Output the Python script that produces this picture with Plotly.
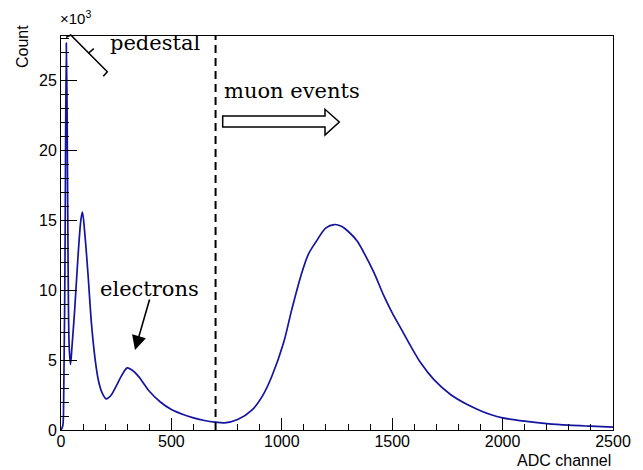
import plotly.graph_objects as go

# ADC channel and counts
adc = [0, 8, 12, 18, 24, 28, 32, 37, 43, 50, 62, 77, 90, 97, 108, 122, 138, 155, 170,
       185, 205, 225, 250, 275, 300, 320, 350, 400, 450, 500, 550, 600, 650, 700, 740,
       800, 867, 912, 955, 1008, 1045, 1086, 1120, 1155, 1200, 1238, 1270, 1300, 1342,
       1372, 1418, 1463, 1500, 1538, 1584, 1629, 1689, 1764, 1840, 1900, 1945, 2000,
       2100, 2200, 2300, 2400, 2500]
counts = [0, 300, 2000, 12000, 27650, 22000, 12000, 6000, 4680, 6000, 8600, 12400, 15000,
          15560, 14000, 11200, 7600, 5000, 3500, 2700, 2230, 2450, 3130, 3900, 4440, 4300,
          3850, 2770, 2000, 1460, 1120, 870, 680, 560, 510, 750, 1460, 2420, 3840, 6230,
          8600, 10990, 12550, 13450, 14440, 14680, 14560, 14200, 13490, 12660, 11230, 9560,
          8370, 7300, 5990, 4800, 3600, 2540, 1820, 1380, 1110, 870, 630, 460, 345, 270, 200]

y_tickvals = [0, 5000, 10000, 15000, 20000, 25000]
y_ticktext = ["0", "5", "10", "15", "20", "25"]
x_tickvals = [0, 500, 1000, 1500, 2000, 2500]
muon_cut = 700

W, H = 643, 470
L, R, T, B = 61, 30, 36, 40
PW, PH = W - L - R, H - T - B


def px(x):
    return (x - L) / PW


def py(y):
    return (H - B - y) / PH


fig = go.Figure()
fig.add_trace(go.Scatter(x=adc, y=counts, mode="lines",
                         line=dict(color="rgb(20,20,160)", width=1.7, shape="spline", smoothing=0.9),
                         hoverinfo="skip", showlegend=False))

sans = "Liberation Sans, Arial, sans-serif"
serif = "DejaVu Serif"

fig.update_layout(
    width=W, height=H,
    margin=dict(l=L, r=R, t=T, b=B),
    paper_bgcolor="white", plot_bgcolor="white",
    xaxis=dict(range=[0, 2500], tickvals=x_tickvals, ticks="inside", ticklen=12,
               tickcolor="black", tickwidth=1, showgrid=False, zeroline=False,
               showline=True, linecolor="black", linewidth=1, mirror=True,
               ticklabelstandoff=-3,
               tickfont=dict(family=sans, size=16, color="black"),
               minor=dict(dtick=100, ticks="inside", ticklen=6, tickcolor="black", tickwidth=1)),
    yaxis=dict(range=[0, 28150], tickvals=y_tickvals, ticktext=y_ticktext, ticks="inside",
               ticklen=16, tickcolor="black", tickwidth=1, showgrid=False, zeroline=False,
               showline=True, linecolor="black", linewidth=1, mirror=True,
               tickfont=dict(family=sans, size=16, color="black"),
               minor=dict(dtick=1000, ticks="inside", ticklen=8, tickcolor="black", tickwidth=1)),
)

# dashed cut line
fig.add_shape(type="line", xref="x", yref="paper", x0=muon_cut, x1=muon_cut, y0=0, y1=1,
              line=dict(color="black", width=2, dash="8px,5px"))

# pedestal bracket
fig.add_shape(type="path", xref="paper", yref="paper",
              path=f"M{px(66)},{py(37.3)} L{px(70.7)},{py(35)} L{px(107.3)},{py(71.7)} L{px(103.3)},{py(76.3)}",
              line=dict(color="black", width=1.5))
fig.add_shape(type="path", xref="paper", yref="paper",
              path=f"M{px(88.4)},{py(53.3)} L{px(93.8)},{py(48.6)}",
              line=dict(color="black", width=1.5))

# hollow muon arrow
pts = [(222.7, 116), (325, 116), (325, 109.3), (339.3, 122), (325, 135), (325, 127), (222.7, 127)]
path = "M" + " L".join(f"{px(a)},{py(b)}" for a, b in pts) + " Z"
fig.add_shape(type="path", xref="paper", yref="paper", path=path,
              line=dict(color="black", width=1.5), fillcolor="white")

# texts
fig.add_annotation(text="pedestal", xref="paper", yref="paper", x=px(155), y=py(43),
                   showarrow=False, font=dict(family=serif, size=21, color="black"),
                   xanchor="center", yanchor="middle")
fig.add_annotation(text="muon events", xref="paper", yref="paper", x=px(292), y=py(91),
                   showarrow=False, font=dict(family=serif, size=21, color="black"),
                   xanchor="center", yanchor="middle")
fig.add_annotation(text="electrons", xref="paper", yref="paper", x=px(149), y=py(289),
                   showarrow=False, font=dict(family=serif, size=21, color="black"),
                   xanchor="center", yanchor="middle")
# electrons arrow
fig.add_annotation(text="", xref="paper", yref="paper", x=px(135), y=py(350),
                   ax=15, ay=-52, showarrow=True, arrowhead=2, arrowsize=1.8,
                   arrowwidth=1.6, arrowcolor="black")

# axis titles
fig.add_annotation(text="ADC channel", xref="paper", yref="paper", x=1, y=py(460),
                   showarrow=False, xanchor="right", yanchor="middle",
                   font=dict(family=sans, size=16, color="black"))
fig.add_annotation(text="Count", xref="paper", yref="paper", x=px(22.5), y=py(46.5),
                   showarrow=False, textangle=-90, xanchor="center", yanchor="middle",
                   font=dict(family=sans, size=16, color="black"))
fig.add_annotation(text="×10<sup>3</sup>", xref="paper", yref="paper", x=px(58), y=py(18),
                   showarrow=False, xanchor="left", yanchor="middle",
                   font=dict(family=sans, size=15, color="black"))

fig.write_html("out.html")
